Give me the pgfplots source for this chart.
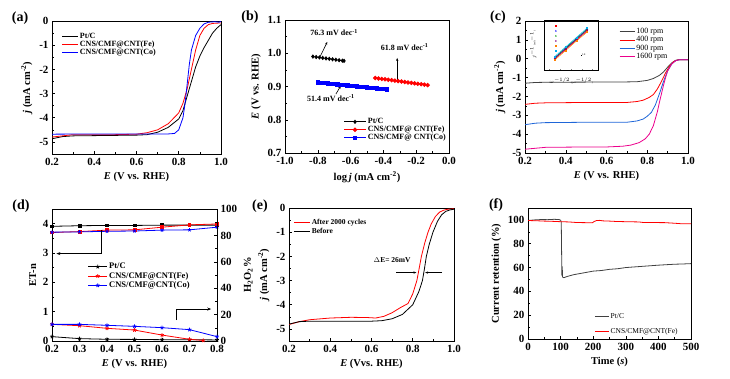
\documentclass[border=0pt]{standalone}
\usepackage{fontspec}
\setmainfont{Liberation Serif}
\usepackage{pgfplots}
\pgfplotsset{compat=1.18}
\usetikzlibrary{arrows.meta}
\definecolor{dgray}{HTML}{404040}
\definecolor{cblue}{HTML}{1F66D8}
\pgfplotsset{
  panel/.style={scale only axis, anchor=south west,
    axis line style={line width=0.6pt}, tick align=inside,
    xtick pos=bottom, ytick pos=left, minor tick num=1,
    tick style={black, line width=0.5pt}, major tick length=3pt, minor tick length=1.6pt,
    tick label style={font=\fontsize{11}{11}\selectfont\bfseries},
    xticklabel style={yshift=-0.5pt},
    label style={font=\fontsize{10.5}{12}\selectfont\bfseries},
    /pgf/number format/assume math mode=true,
    legend cell align=left,
    legend style={draw=none, fill=none, inner sep=1pt, row sep=-2pt,
      font=\fontsize{8}{9}\selectfont\bfseries, nodes={inner sep=1.5pt}},
    legend image code/.code={\draw[##1] (0pt,0pt) -- (16pt,0pt);},
  },
  zf/.style={/pgf/number format/.cd, fixed, fixed zerofill, precision=1},
}
\begin{document}
\begin{tikzpicture}[x=1pt,y=1pt]
\path[use as bounding box] (0,0) rectangle (730,378);
\tikzset{pl/.style={font=\fontsize{14}{14}\selectfont\bfseries}}
\node[pl] at (20,360) {(a)};
\node[pl] at (250,361) {(b)};
\node[pl] at (498,361) {(c)};
\node[pl] at (21,172) {(d)};
\node[pl] at (260,172) {(e)};
\node[pl] at (496,173) {(f)};

% ---------------- (a)
\begin{axis}[panel, at={(52pt,224pt)}, width=169pt, height=133pt,
  xmin=0.2, xmax=1.0, ymin=-5.5, ymax=0,
  xtick={0.2,0.4,0.6,0.8,1.0}, ytick={-5,-4,-3,-2,-1,0},
  xticklabel style={zf},
  xlabel={\textit{E} (V vs. RHE)}, ylabel={\textit{j} (mA cm\textsuperscript{-2})},
  legend style={at={(0.05,0.93)}, anchor=north west}]
\addplot[black, line width=0.8pt] coordinates {(0.2,-4.87)(0.25,-4.78)(0.3,-4.75)(0.4,-4.74)(0.5,-4.73)(0.6,-4.72)(0.65,-4.7)(0.7,-4.6)(0.75,-4.4)(0.8,-4.05)(0.82,-3.7)(0.84,-3.1)(0.86,-2.5)(0.88,-1.9)(0.9,-1.45)(0.92,-1.1)(0.94,-0.8)(0.96,-0.5)(0.98,-0.3)(1.0,-0.15)};
\addplot[red, line width=0.8pt] coordinates {(0.2,-4.8)(0.3,-4.7)(0.5,-4.7)(0.6,-4.68)(0.65,-4.62)(0.7,-4.5)(0.75,-4.25)(0.8,-3.8)(0.82,-3.4)(0.84,-2.8)(0.86,-2.0)(0.88,-1.2)(0.9,-0.6)(0.92,-0.3)(0.94,-0.15)(0.96,-0.1)(1.0,-0.08)};
\addplot[blue, line width=0.8pt] coordinates {(0.2,-4.68)(0.4,-4.67)(0.6,-4.67)(0.75,-4.67)(0.78,-4.65)(0.8,-4.5)(0.82,-4.0)(0.83,-3.4)(0.84,-2.6)(0.85,-1.8)(0.86,-1.2)(0.88,-0.6)(0.9,-0.3)(0.92,-0.12)(0.94,-0.05)(0.97,-0.03)(0.99,-0.05)(1.0,-0.02)};
\legend{Pt/C, CNS/CMF@CNT(Fe), CNS/CMF@CNT(Co)}
\end{axis}

% ---------------- (b)
\begin{axis}[panel, at={(285pt,225pt)}, width=164pt, height=133pt,
  xmin=-1.0, xmax=0.0, ymin=0.7, ymax=1.1,
  xtick={-1.0,-0.8,-0.6,-0.4,-0.2,0.0}, ytick={0.7,0.8,0.9,1.0,1.1},
  xticklabel style={zf}, yticklabel style={zf},
  xlabel={log\,\textit{j} (mA cm\textsuperscript{-2})}, ylabel={\textit{E} (V vs. RHE)},
  legend style={at={(0.35,0.28)}, anchor=north west, font=\fontsize{8}{9}\selectfont\bfseries},
  legend image code/.code={\draw[#1] (0pt,0pt) -- (22pt,0pt); \draw[#1, only marks] plot coordinates {(11pt,0pt)};}]
\addplot[black, line width=0.8pt, mark=diamond*, mark size=1.6pt] coordinates {(-0.83,0.990)(-0.81,0.9886)(-0.79,0.9873)(-0.77,0.9859)(-0.75,0.9845)(-0.73,0.9832)(-0.71,0.9818)(-0.69,0.9804)(-0.67,0.9791)(-0.65,0.9777)(-0.64,0.977)};
\addplot[red, line width=0.8pt, mark=*, mark size=1.8pt] coordinates {(-0.45,0.9256)(-0.43,0.9243)(-0.41,0.9229)(-0.39,0.9216)(-0.37,0.9203)(-0.35,0.9189)(-0.33,0.9176)(-0.31,0.9162)(-0.29,0.9149)(-0.27,0.9135)(-0.25,0.9122)(-0.23,0.9109)(-0.21,0.9095)(-0.19,0.9082)(-0.17,0.9068)(-0.15,0.9055)(-0.13,0.9042)};
\addplot[blue, line width=0.8pt, mark=square*, mark size=1.6pt] coordinates {(-0.80,0.9122)(-0.78,0.9112)(-0.76,0.9102)(-0.74,0.9092)(-0.72,0.9081)(-0.70,0.9071)(-0.68,0.9061)(-0.66,0.9051)(-0.64,0.9041)(-0.62,0.9031)(-0.60,0.9021)(-0.58,0.9011)(-0.56,0.9001)(-0.54,0.8991)(-0.52,0.8981)(-0.50,0.8971)(-0.48,0.8961)(-0.46,0.8951)(-0.44,0.8941)(-0.42,0.8931)(-0.40,0.8920)(-0.38,0.8910)};
\legend{Pt/C, CNS/CMF@ CNT(Fe), CNS/CMF@ CNT(Co)}
\node[font=\fontsize{8}{9}\selectfont\bfseries] at (axis cs:-0.70,1.062) {76.3 mV dec\textsuperscript{-1}};
\node[font=\fontsize{8}{9}\selectfont\bfseries] at (axis cs:-0.27,1.018) {61.8 mV dec\textsuperscript{-1}};
\node[font=\fontsize{8}{9}\selectfont\bfseries] at (axis cs:-0.72,0.866) {51.4 mV dec\textsuperscript{-1}};
\draw[-{Stealth[length=3pt]}, line width=0.6pt] (axis cs:-0.787,0.989) -- (axis cs:-0.742,1.034);
\draw[-{Stealth[length=3pt]}, line width=0.6pt] (axis cs:-0.316,0.918) -- (axis cs:-0.316,0.986);
\draw[-{Stealth[length=3pt]}, line width=0.6pt] (axis cs:-0.69,0.877) -- (axis cs:-0.66,0.902);
\end{axis}

% ---------------- (c)
\begin{axis}[panel, at={(525pt,225pt)}, width=163pt, height=132pt,
  xmin=0.2, xmax=1.0, ymin=-5, ymax=2,
  xtick={0.2,0.4,0.6,0.8,1.0}, ytick={-5,-4,-3,-2,-1,0,1,2},
  xticklabel style={zf},
  xlabel={\textit{E} (V vs. RHE)}, ylabel={\textit{j} (mA cm\textsuperscript{-2})},
  legend style={at={(0.57,0.965)}, anchor=north west, font=\fontsize{8}{9}\selectfont, row sep=-1.5pt},
  legend image code/.code={\draw[#1] (0pt,0pt) -- (15pt,0pt);}]
\addplot[dgray, line width=0.8pt] coordinates {(0.2,-1.3)(0.25,-1.26)(0.3,-1.25)(0.5,-1.24)(0.7,-1.23)(0.75,-1.22)(0.8,-1.15)(0.83,-1.05)(0.86,-0.88)(0.88,-0.7)(0.9,-0.45)(0.92,-0.22)(0.94,-0.08)(0.96,-0.05)(1.0,-0.05)};
\addplot[red, line width=0.8pt] coordinates {(0.2,-2.42)(0.25,-2.36)(0.3,-2.34)(0.5,-2.32)(0.7,-2.32)(0.75,-2.27)(0.78,-2.2)(0.81,-2.05)(0.83,-1.9)(0.85,-1.6)(0.87,-1.2)(0.89,-0.75)(0.91,-0.38)(0.93,-0.15)(0.95,-0.06)(1.0,-0.05)};
\addplot[cblue, line width=0.8pt] coordinates {(0.2,-3.5)(0.25,-3.42)(0.3,-3.39)(0.5,-3.37)(0.7,-3.37)(0.75,-3.3)(0.78,-3.2)(0.8,-3.05)(0.82,-2.85)(0.84,-2.45)(0.86,-1.85)(0.88,-1.2)(0.9,-0.65)(0.92,-0.28)(0.94,-0.1)(0.96,-0.05)(1.0,-0.05)};
\addplot[magenta, line width=0.8pt] coordinates {(0.2,-4.8)(0.25,-4.75)(0.3,-4.7)(0.5,-4.68)(0.6,-4.68)(0.68,-4.64)(0.72,-4.58)(0.76,-4.45)(0.79,-4.25)(0.81,-4.0)(0.83,-3.55)(0.85,-2.8)(0.86,-2.3)(0.87,-1.85)(0.88,-1.4)(0.89,-1.0)(0.9,-0.65)(0.92,-0.28)(0.94,-0.1)(0.96,-0.05)(1.0,-0.05)};
\legend{100 rpm, 400 rpm, 900 rpm, 1600 rpm}
\end{axis}
% inset of (c)
\begin{axis}[scale only axis, anchor=south west, at={(544pt,308pt)}, width=54pt, height=50pt,
  xmin=0, xmax=1, ymin=0, ymax=1, axis line style={line width=0.4pt},
  xtick={0.1,0.3,0.5,0.7,0.9}, ytick={0.1,0.3,0.5,0.7,0.9},
  xticklabels={,,,,}, yticklabels={,,,,},
  tick align=inside, tick style={line width=0.3pt}, major tick length=1pt,
  xtick pos=bottom, ytick pos=left,
  label style={font=\fontsize{2.5}{3}\selectfont, inner sep=0.5pt}, xlabel={$\omega^{-1/2}$ (rpm$^{-1/2}$)}, ylabel={$j^{-1}$ (mA$^{-1}$)}]
\addplot[red, line width=0.5pt, mark=square*, mark size=0.5pt] coordinates {(0.2,0.22)(0.4,0.41)(0.6,0.6)(0.8,0.78)};
\addplot[blue, line width=0.5pt, mark=triangle*, mark size=0.6pt] coordinates {(0.2,0.24)(0.4,0.43)(0.6,0.62)(0.8,0.81)};
\addplot[green!60!black, line width=0.5pt, mark=triangle*, mark size=0.6pt] coordinates {(0.2,0.25)(0.4,0.44)(0.6,0.63)(0.8,0.82)};
\addplot[violet, line width=0.5pt, mark=diamond*, mark size=0.6pt] coordinates {(0.2,0.23)(0.4,0.42)(0.6,0.61)(0.8,0.8)};
\addplot[orange, line width=0.5pt, mark=square*, mark size=0.5pt] coordinates {(0.2,0.2)(0.4,0.39)(0.6,0.58)(0.8,0.76)};
\addplot[cyan, line width=0.5pt, mark=square*, mark size=0.5pt] coordinates {(0.2,0.27)(0.4,0.46)(0.6,0.65)(0.8,0.84)};
\addplot[only marks, red, mark=square*, mark size=0.5pt] coordinates {(0.22,0.88)};
\addplot[only marks, blue, mark=triangle*, mark size=0.6pt] coordinates {(0.22,0.78)};
\addplot[only marks, green!60!black, mark=triangle*, mark size=0.6pt] coordinates {(0.22,0.68)};
\addplot[only marks, violet, mark=diamond*, mark size=0.6pt] coordinates {(0.22,0.58)};
\addplot[only marks, orange, mark=square*, mark size=0.5pt] coordinates {(0.22,0.48)};
\addplot[only marks, cyan, mark=square*, mark size=0.5pt] coordinates {(0.22,0.38)};
\node[font=\fontsize{2.5}{3}\selectfont] at (axis cs:0.72,0.3) {\rule{1pt}{1pt} 3.8};
\end{axis}

% ---------------- (d)
\begin{axis}[panel, at={(52pt,37pt)}, width=165pt, height=132pt,
  xmin=0.2, xmax=0.8, ymin=0, ymax=4.5,
  xtick={0.2,0.3,0.4,0.5,0.6,0.7,0.8}, ytick={0,1,2,3,4},
  xticklabel style={zf}, minor x tick num=0,
  xlabel={\textit{E} (V vs. RHE)}, ylabel={ET-n}]
\addplot[black, line width=0.8pt, mark=square*, mark size=1.4pt] coordinates {(0.2,3.91)(0.3,3.93)(0.4,3.94)(0.5,3.94)(0.6,3.95)(0.7,3.95)(0.8,3.95)};
\addplot[red, line width=0.8pt, mark=square*, mark size=1.4pt] coordinates {(0.2,3.70)(0.3,3.73)(0.4,3.78)(0.5,3.79)(0.6,3.88)(0.7,3.96)(0.8,3.99)};
\addplot[blue, line width=0.8pt, mark=star, mark size=1.8pt] coordinates {(0.2,3.71)(0.3,3.72)(0.4,3.74)(0.5,3.75)(0.6,3.78)(0.7,3.79)(0.8,3.88)};
\draw[-{Stealth[length=4pt]}, line width=0.6pt] (axis cs:0.379,3.77) -- (axis cs:0.379,2.98) -- (axis cs:0.216,2.98);
\draw[-{Stealth[length=4pt]}, line width=0.6pt] (axis cs:0.652,0.71) -- (axis cs:0.652,1.09) -- (axis cs:0.779,1.09);
\end{axis}
\begin{axis}[panel, at={(52pt,37pt)}, width=165pt, height=132pt,
  xmin=0.2, xmax=0.8, ymin=0, ymax=100,
  axis x line=none, axis y line*=right, ytick pos=right,
  ytick={0,20,40,60,80,100},
  ylabel={H\textsubscript{2}O\textsubscript{2}\%},
  legend style={at={(0.21,0.61)}, anchor=north west, font=\fontsize{8.5}{9}\selectfont\bfseries, row sep=-1pt},
  legend image code/.code={\draw[#1] (0pt,0pt) -- (19pt,0pt); \draw[#1, only marks] plot coordinates {(9.5pt,0pt)};}]
\addplot[black, line width=0.8pt, mark=star, mark size=2pt] coordinates {(0.2,3.3)(0.3,1.8)(0.4,1.3)(0.5,1.2)(0.6,1.0)(0.7,1.0)(0.8,0.8)};
\addplot[red, line width=0.8pt, mark=star, mark size=2pt] coordinates {(0.2,12.6)(0.3,11.6)(0.4,9.6)(0.5,8.3)(0.6,4.5)(0.7,1.3)(0.75,0.4)};
\addplot[blue, line width=0.8pt, mark=star, mark size=2pt] coordinates {(0.2,12.6)(0.3,12.6)(0.4,11.9)(0.5,11.1)(0.6,10.1)(0.7,8.6)(0.8,3.3)};
\legend{Pt/C, CNS/CMF@CNT(Fe), CNS/CMF@CNT(Co)}
\end{axis}

% ---------------- (e)
\begin{axis}[panel, at={(289pt,37pt)}, width=165pt, height=133pt,
  xmin=0.2, xmax=1.0, ymin=-5.5, ymax=0,
  xtick={0.2,0.4,0.6,0.8,1.0}, ytick={-5,-4,-3,-2,-1,0},
  xticklabel style={zf},
  xlabel={\textit{E} (Vvs. RHE)}, ylabel={\textit{j} (mA cm\textsuperscript{-2})},
  legend style={at={(0.02,0.935)}, anchor=north west, font=\fontsize{7.5}{8}\selectfont\bfseries, row sep=-1pt}]
\addplot[red, line width=0.8pt] coordinates {(0.2,-4.82)(0.25,-4.7)(0.3,-4.62)(0.4,-4.55)(0.5,-4.52)(0.58,-4.53)(0.62,-4.55)(0.66,-4.48)(0.7,-4.33)(0.74,-4.12)(0.777,-3.95)(0.8,-3.55)(0.82,-3.0)(0.83,-2.55)(0.842,-2.0)(0.858,-1.45)(0.874,-1.0)(0.89,-0.65)(0.91,-0.35)(0.93,-0.17)(0.95,-0.09)(0.97,-0.05)(1.0,-0.03)};
\addplot[black, line width=0.8pt] coordinates {(0.2,-4.8)(0.25,-4.7)(0.3,-4.68)(0.4,-4.68)(0.5,-4.68)(0.6,-4.68)(0.65,-4.66)(0.7,-4.58)(0.75,-4.4)(0.8,-4.0)(0.83,-3.45)(0.847,-3.0)(0.857,-2.5)(0.866,-2.0)(0.88,-1.5)(0.898,-1.0)(0.92,-0.55)(0.94,-0.28)(0.96,-0.14)(0.98,-0.08)(1.0,-0.05)};
\legend{After 2000 cycles, Before}
\node[font=\fontsize{7.5}{8}\selectfont\bfseries] at (axis cs:0.70,-2.15) {$\Delta$E= 26mV};
\draw[-{Stealth[length=3pt]}, line width=0.6pt] (axis cs:0.72,-2.67) -- (axis cs:0.818,-2.67);
\draw[-{Stealth[length=3pt]}, line width=0.6pt] (axis cs:0.942,-2.67) -- (axis cs:0.86,-2.67);
\end{axis}

% ---------------- (f)
\begin{axis}[panel, at={(528pt,39pt)}, width=163pt, height=131pt,
  xmin=0, xmax=500, ymin=0, ymax=110,
  xtick={0,100,200,300,400,500}, ytick={0,20,40,60,80,100},
  xlabel={Time (\textit{s})}, ylabel={Current retention (\%)},
  legend style={at={(0.40,0.215)}, anchor=north west, font=\fontsize{7.5}{8}\selectfont, row sep=5pt},
  legend image code/.code={\draw[#1] (0pt,0pt) -- (14pt,0pt);}]
\addplot[dgray, line width=0.8pt] coordinates {(0,99.5)(20,100)(40,100.3)(60,100.2)(80,100.5)(95,100.3)(100,99.8)(102,98)(103,75)(104,53)(105,61)(106,52)(110,51.5)(120,52.5)(140,54)(160,55)(180,56)(200,57)(225,57.5)(250,58.5)(275,59)(300,60)(325,60.5)(350,61)(375,61.5)(400,62)(425,62.4)(450,62.8)(475,63)(500,63.3)};
\addplot[red, line width=0.8pt] coordinates {(0,99.5)(25,99.3)(50,99)(75,98.8)(100,98.5)(125,98.3)(150,97.8)(175,97.7)(198,97.7)(202,98.5)(210,99.5)(220,99.6)(230,99.2)(250,99)(270,98.7)(300,98.5)(340,98.3)(355,97.8)(380,97.8)(420,97.7)(450,97.2)(470,96.8)(500,96.8)};
\legend{Pt/C, CNS/CMF@CNT(Fe)}
\end{axis}
\end{tikzpicture}
\end{document}
